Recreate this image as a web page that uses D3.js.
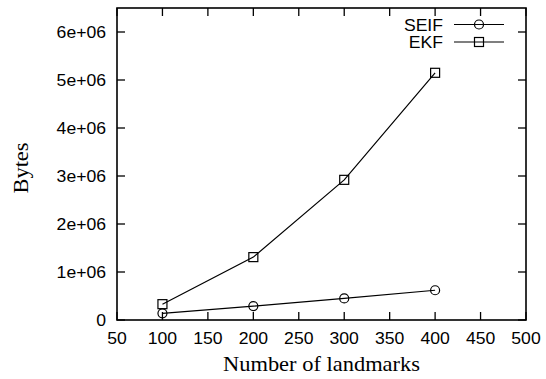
<!DOCTYPE html>
<html><head><meta charset="utf-8">
<script src="https://cdn.jsdelivr.net/npm/d3@7"></script>
<style>body{margin:0;background:#fff}</style></head>
<body><svg id="c" width="546" height="379"></svg>
<script>
const landmarks = [100, 200, 300, 400];
const seif = [0.14e6, 0.29e6, 0.45e6, 0.62e6];
const ekf = [0.33e6, 1.31e6, 2.92e6, 5.15e6];
const xTicks = [50,100,150,200,250,300,350,400,450,500];
const yTicks = [0,1e6,2e6,3e6,4e6,5e6,6e6];
const yTickLabels = ["0","1e+06","2e+06","3e+06","4e+06","5e+06","6e+06"];

const svg = d3.select("#c");
const L=117, R=526, T=8, B=320;
const x = d3.scaleLinear().domain([50,500]).range([L,R]);
const y = d3.scaleLinear().domain([0,6.5e6]).range([B,T]);
const tl = 8;
const sans = "'Liberation Sans', Arial, sans-serif";
const serif = "'Liberation Serif', 'Times New Roman', serif";

function txt(px, py, s, anchor, fam, fs, sx, rot){
  return svg.append("text")
    .attr("transform", `translate(${px},${py})` + (rot?` rotate(${rot})`:"") + ` scale(${sx},1)`)
    .attr("text-anchor", anchor).attr("font-family", fam).attr("font-size", fs).text(s);
}

// ticks (inward, mirrored)
const g = svg.append("g").attr("stroke","#000").attr("stroke-width",1.3);
xTicks.forEach(v=>{
  g.append("line").attr("x1",x(v)).attr("x2",x(v)).attr("y1",B).attr("y2",B-tl);
  g.append("line").attr("x1",x(v)).attr("x2",x(v)).attr("y1",T).attr("y2",T+tl);
});
yTicks.forEach(v=>{
  g.append("line").attr("x1",L).attr("x2",L+tl).attr("y1",y(v)).attr("y2",y(v));
  g.append("line").attr("x1",R).attr("x2",R-tl).attr("y1",y(v)).attr("y2",y(v));
});
svg.append("rect").attr("x",L).attr("y",T).attr("width",R-L).attr("height",B-T)
  .attr("fill","none").attr("stroke","#000").attr("stroke-width",1.6);

// tick labels
xTicks.forEach(v=> txt(x(v), B+23.5, v, "middle", sans, 16, 1.1));
yTicks.forEach((v,i)=> txt(L-11, y(v)+6, yTickLabels[i], "end", sans, 16, 1.1));
txt((L+R)/2, 371, "Number of landmarks", "middle", serif, 21, 1.07);
txt(28, 168, "Bytes", "middle", serif, 21, 1.07, -90);

const line = d3.line().x((d,i)=>x(landmarks[i])).y(d=>y(d));
function marker(cx,cy,shape){
  if(shape==="circle") svg.append("circle").attr("cx",cx).attr("cy",cy).attr("r",4.5)
    .attr("fill","none").attr("stroke","#000").attr("stroke-width",1.2);
  else svg.append("rect").attr("x",cx-4.5).attr("y",cy-4.5).attr("width",9).attr("height",9)
    .attr("fill","none").attr("stroke","#000").attr("stroke-width",1.2);
}
function drawSeries(vals, shape){
  svg.append("path").attr("d",line(vals)).attr("fill","none").attr("stroke","#000").attr("stroke-width",1.2);
  vals.forEach((v,i)=>marker(x(landmarks[i]), y(v), shape));
}
drawSeries(seif,"circle");
drawSeries(ekf,"square");

// legend
const leg = [["SEIF","circle",24.5],["EKF","square",42]];
leg.forEach(([name,shape,ly])=>{
  txt(443, ly+6, name, "end", sans, 16, 1.1);
  svg.append("line").attr("x1",454).attr("x2",504).attr("y1",ly).attr("y2",ly)
    .attr("stroke","#000").attr("stroke-width",1.2);
  marker(479, ly, shape);
});
</script></body></html>
